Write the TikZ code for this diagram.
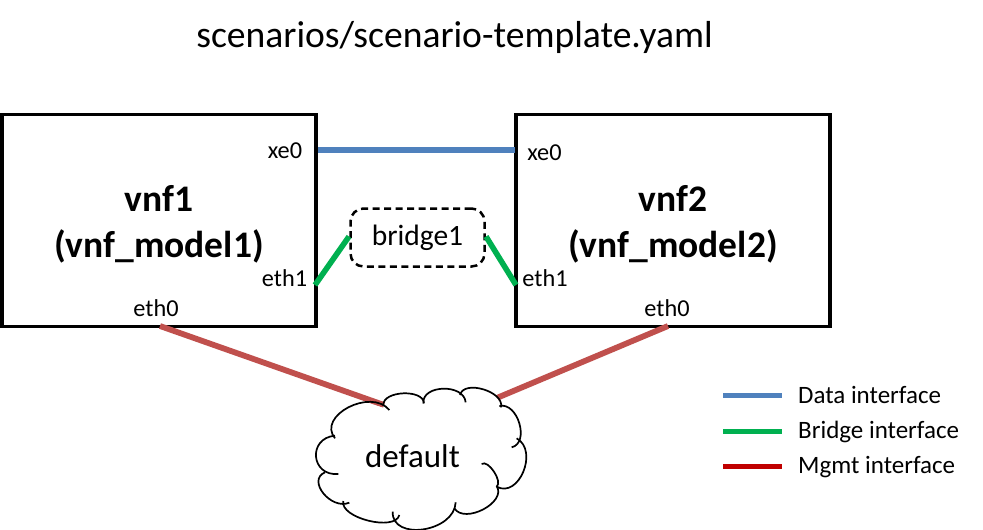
\documentclass[tikz,border=0pt]{standalone}
\usepackage{fontspec}
\setmainfont{Carlito}
\definecolor{datac}{HTML}{4F81BD}
\definecolor{bridgec}{HTML}{00B050}
\definecolor{mgmtc}{HTML}{C0504D}
\definecolor{mgmtl}{HTML}{C00000}
\tikzset{
  vnfbox/.style={draw=black,line width=3.6pt,minimum width=314pt,minimum height=212pt,inner sep=0pt},
  vnftext/.style={align=center,inner sep=0pt,font=\fontsize{37.5}{46}\selectfont\bfseries},
  port/.style={font=\fontsize{24.3}{28}\selectfont,inner sep=0pt,anchor=center},
  brbox/.style={draw=black,line width=2.5pt,dash pattern=on 7pt off 4.5pt,rounded corners=13pt,minimum width=134pt,minimum height=58pt,inner sep=0pt},
  brtext/.style={inner sep=0pt,font=\fontsize{29.5}{34}\selectfont},
  datal/.style={draw=datac,line width=5.6pt},
  bridgel/.style={draw=bridgec,line width=5.6pt},
  mgmtline/.style={draw=mgmtc,line width=5.8pt},
  legtext/.style={font=\fontsize{25}{30}\selectfont,anchor=base west,inner sep=0pt},
  cloudarc/.style={draw=black,line width=1.7pt},
}
\newcommand{\lobecurve}[6]{%
  \pgfmathsetmacro{\dx}{(#3-(#1+#5)/2)*4/3/3}%
  \pgfmathsetmacro{\dy}{(#4-(#2+#6)/2)*4/3/3}%
  \draw[cloudarc] ({290+#1/3},{370+#2/3}) .. controls ({290+#1/3+\dx},{370+#2/3+\dy}) and ({290+#5/3+\dx},{370+#6/3+\dy}) .. ({290+#5/3},{370+#6/3});%
}
\begin{document}
\begin{tikzpicture}[x=1pt,y=-1pt]
\useasboundingbox (0,0) rectangle (983,530);
\node[font=\fontsize{37.6}{44}\selectfont] (title) at (454.5,37.5) {scenarios/scenario-template.yaml};
\node[vnfbox] (vnf1) at (159,220.5) {};
\node[vnfbox] (vnf2) at (673,220.5) {};
\node[vnftext] (vnf1t) at (159,224) {vnf1\\(vnf\_model1)};
\node[vnftext] (vnf2t) at (673,224) {vnf2\\(vnf\_model2)};
\node[brbox] (br) at (417.5,237.5) {};
\node[brtext] (brt) at (417.5,237.5) {bridge1};
\node[port] (xe1) at (285,151) {xe0};
\node[port] (xe2) at (544.5,153) {xe0};
\node[port] (et1) at (284.5,278) {eth1};
\node[port] (et2) at (545,278) {eth1};
\node[port] (e01) at (156,308) {eth0};
\node[port] (e02) at (667,308) {eth0};
\coordinate (a1) at (318,150);
\coordinate (a2) at (514.5,150);
\coordinate (b1) at (315,285);
\coordinate (b2) at (349,236.5);
\coordinate (c1) at (486,236.5);
\coordinate (c2) at (516,285);
\coordinate (d1) at (160,326);
\coordinate (d2) at (384,405);
\coordinate (f1) at (668,326);
\coordinate (f2) at (492,400);
\draw[datal] (a1) -- (a2);
\draw[bridgel] (b1) -- (b2);
\draw[bridgel] (c1) -- (c2);
\draw[mgmtline] (d1) -- (d2);
\draw[mgmtline] (f1) -- (f2);
% white body of the cloud
\fill[white] ({290+135/3},{370+205/3}) .. controls (324,405) and (350,395) .. ({290+298/3},{370+120/3})
  -- ({290+340/3},{370+70/3}) -- ({290+455/3},{370+55/3})
  .. controls (480,380) and (495,385) .. ({290+633/3},{370+112/3})
  -- ({290+688/3},{370+160/3}) -- ({290+700/3},{370+305/3}) -- ({290+580/3},{370+418/3})
  -- ({290+400/3},{370+478/3}) -- ({290+235/3},{370+452/3}) -- ({290+100/3},{370+370/3}) -- ({290+78/3},{370+260/3}) -- cycle;
\foreach \a/\b/\c/\d/\e/\f in {
  135/205/175/112/298/120,
  280/105/340/70/402/100,
  400/100/460/56/527/97,
  510/75/580/58/633/112,
  628/108/688/160/665/232,
  680/205/700/305/620/350,
  575/282/612/305/620/350,
  620/348/580/418/493/415,
  497/397/400/478/308/425,
  328/435/235/452/160/393,
  178/398/100/370/105/307,
  145/312/78/260/135/197}{
  \lobecurve{\a}{\b}{\c}{\d}{\e}{\f}
}
\node[font=\fontsize{33}{38}\selectfont,inner sep=0pt] (def) at (412.5,456) {default};
\coordinate (l1) at (723,395.5);
\coordinate (l1e) at (782,395.5);
\coordinate (l2) at (723,431.5);
\coordinate (l2e) at (782,431.5);
\coordinate (l3) at (723,466.5);
\coordinate (l3e) at (782,466.5);
\draw[datal] (l1) -- (l1e);
\draw[bridgel] (l2) -- (l2e);
\draw[draw=mgmtl,line width=5.6pt] (l3) -- (l3e);
\node[legtext] (t1) at (798,403) {Data interface};
\node[legtext] (t2) at (798,438.5) {Bridge interface};
\node[legtext] (t3) at (798,473) {Mgmt interface};
\end{tikzpicture}
\end{document}
